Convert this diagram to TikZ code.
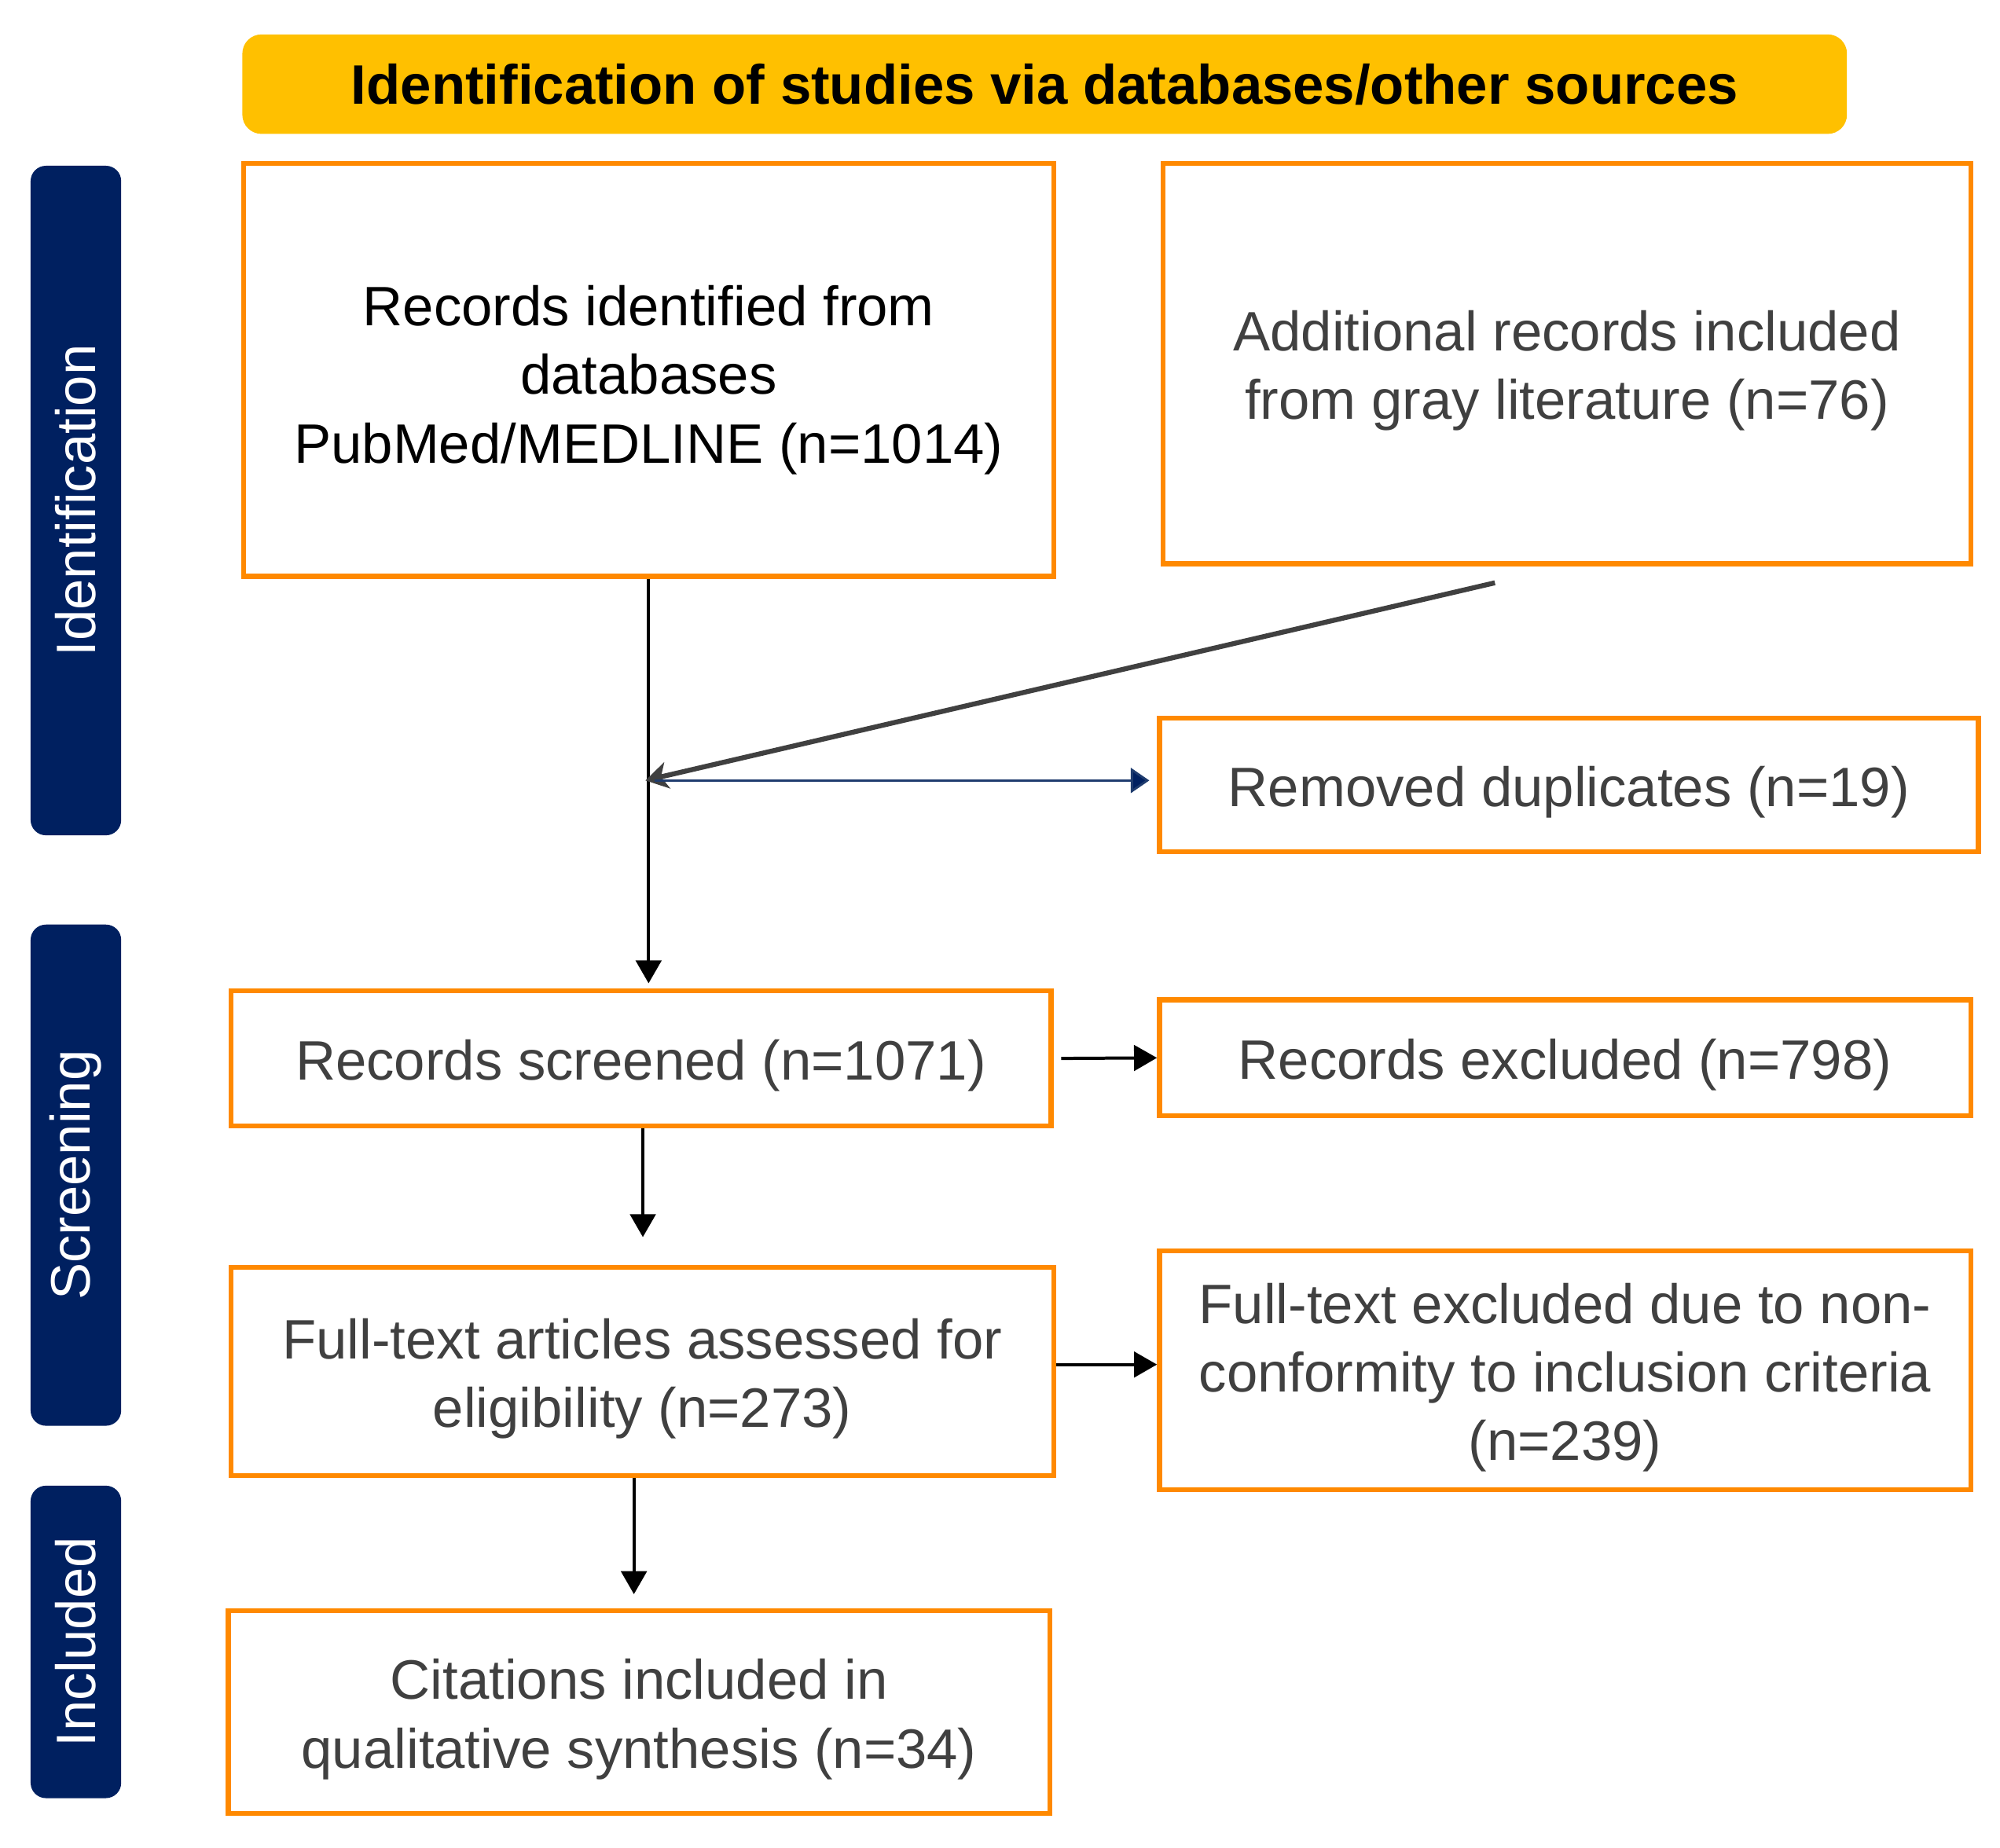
\documentclass[tikz,border=0pt]{standalone}
\usepackage{fontspec}
\setmainfont{Liberation Sans}
\usetikzlibrary{arrows.meta}
\definecolor{boxorange}{RGB}{255,137,0}
\definecolor{hdryellow}{RGB}{255,192,0}
\definecolor{barnavy}{RGB}{0,32,96}
\definecolor{txtgray}{RGB}{64,64,64}
\definecolor{dupblue}{RGB}{31,60,110}
\newcommand\boxstrut{\rule{0pt}{12.2pt}}

\begin{document}
\begin{tikzpicture}[x=0.1mm, y=-0.1mm,
  font=\fontsize{12.4}{15.3}\selectfont,
  box/.style={draw=boxorange, line width=1.1pt, align=center, inner sep=0pt, text=txtgray},
  phase/.style={fill=barnavy, rounded corners=1.2mm, minimum height=7.1mm, inner sep=0pt, rotate=90, text=white},
  arr/.style={-{Triangle[length=1.8mm,width=2mm]}, line width=0.7pt}]
\useasboundingbox (0,0) rectangle (1568,1448.5);

% header
\node[fill=hdryellow, rounded corners=1.5mm, minimum width=125.8mm, minimum height=7.8mm] (hdr) at (819,66) {\bfseries Identification of studies via databases/other sources};

% phases
\node[phase, minimum width=52.5mm] (idbar) at (59.5,392.5) {Identification};
\node[phase, minimum width=39.3mm] (scbar) at (59.5,921.5) {Screening};
\node[phase, minimum width=24.5mm] (inbar) at (59.5,1287.5) {Included};

% boxes
\node[box, text=black, minimum width=63.5mm, minimum height=32.4mm] (rec) at (508.5,290) {\rule{0pt}{13.5pt}Records identified from\\databases\\PubMed/MEDLINE (n=1014)};
\node[box, minimum width=63.3mm, minimum height=31.4mm] (gray) at (1228.5,285) {\boxstrut Additional records included\\from gray literature (n=76)};
\node[box, minimum width=64.2mm, minimum height=10.5mm] (dup) at (1230,615.5) {\boxstrut Removed duplicates (n=19)};
\node[box, minimum width=64.3mm, minimum height=10.6mm] (scr) at (502.5,830) {\boxstrut Records screened (n=1071)};
\node[box, minimum width=63.6mm, minimum height=9.1mm] (excl) at (1227,829.5) {\boxstrut Records excluded (n=798)};
\node[box, minimum width=64.5mm, minimum height=16.3mm] (ft) at (503.5,1075.5) {\boxstrut Full-text articles assessed for\\eligibility (n=273)};
\node[box, minimum width=63.6mm, minimum height=18.7mm] (ftex) at (1227,1074.5) {\boxstrut Full-text excluded due to non-\\conformity to inclusion criteria\\(n=239)};
\node[box, minimum width=64.4mm, minimum height=15.9mm] (cit) at (501,1342.5) {\boxstrut Citations included in\\qualitative synthesis (n=34)};

% connectors
\coordinate (j) at (509,612);
\coordinate (g) at (1172,457);
\draw[arr, shorten >=0.4mm] (rec.south) -- (rec.south |- scr.north);
\draw[txtgray, line width=1.1pt, -{Stealth[length=1.75mm,width=2.1mm,inset=0.5mm]}] (g) -- ([xshift=-0.3mm]j);
\draw[dupblue, line width=0.5pt, -{Triangle[length=1.45mm,width=1.95mm,fill=barnavy]}, shorten >=0.6mm] ([xshift=0.4mm]j) -- (j -| dup.west);
\draw[arr, shorten <=0.6mm] (scr.east) -- (excl.west);
\draw[arr, shorten >=2.2mm] ([xshift=0.15mm]scr.south) -- ([xshift=0.15mm]scr.south |- ft.north);
\draw[arr] ([yshift=0.55mm]ft.east) -- ([yshift=0.55mm]ft.east -| ftex.west);
\draw[arr, shorten >=1.1mm] ([xshift=-0.65mm]ft.south) -- ([xshift=-0.65mm]ft.south |- cit.north);

\end{tikzpicture}
\end{document}
